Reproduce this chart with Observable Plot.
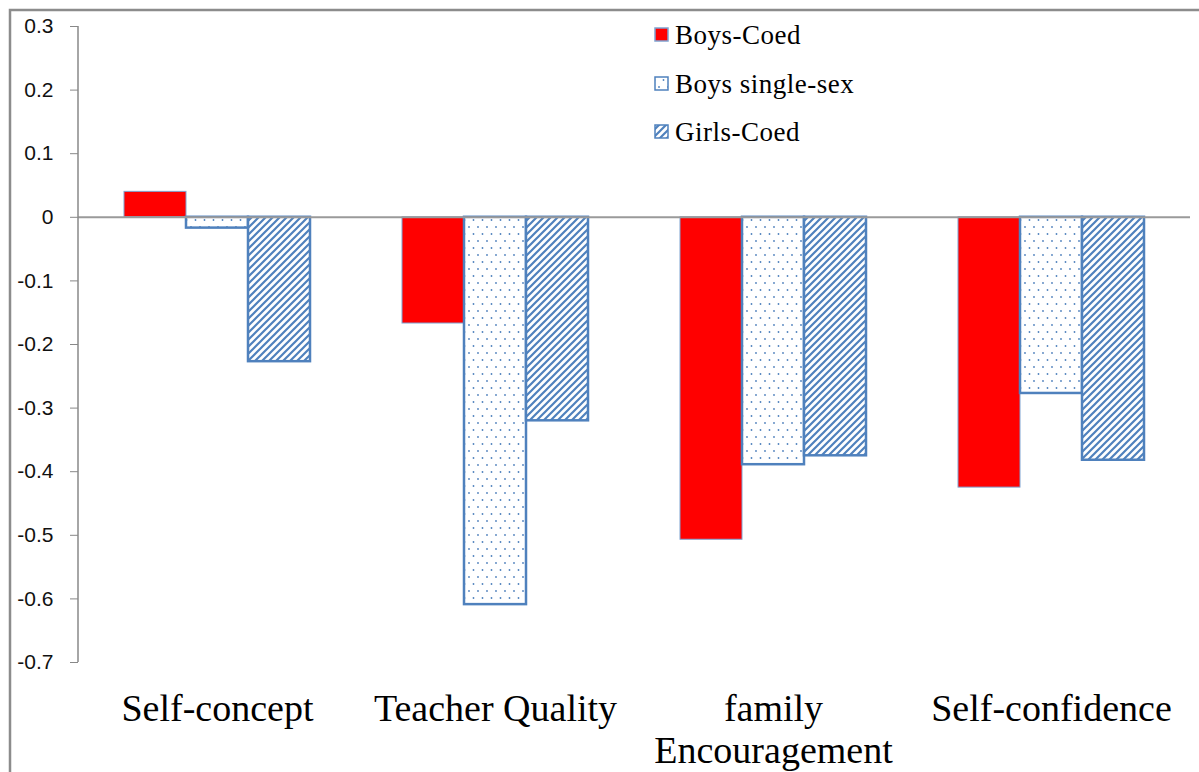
<!DOCTYPE html>
<html><head><meta charset="utf-8">
<script src="https://cdn.jsdelivr.net/npm/d3@7"></script>
<script src="https://cdn.jsdelivr.net/npm/@observablehq/plot@0.6"></script>
<style>
body{margin:0;background:#fff}
#chart{position:relative;width:1199px;height:772px;overflow:hidden}
</style>
</head><body><div id="chart"></div>
<script>
const categories = ["Self-concept", "Teacher Quality", "family\nEncouragement", "Self-confidence"];
const seriesNames = ["Boys-Coed", "Boys single-sex", "Girls-Coed"];
const boysCoed = [0.04, -0.167, -0.507, -0.425];
const boysSingleSex = [-0.017, -0.609, -0.389, -0.277];
const girlsCoed = [-0.227, -0.320, -0.375, -0.382];
const yTicks = [0.3, 0.2, 0.1, 0, -0.1, -0.2, -0.3, -0.4, -0.5, -0.6, -0.7];

const seriesValues = [boysCoed, boysSingleSex, girlsCoed];
const data = [];
categories.forEach((c, i) => {
  seriesNames.forEach((s, j) => data.push({category: c, series: s, value: seriesValues[j][i]}));
});

const BLUE = "#4f81bd";
const fills = ["#ff0000", "url(#dots)", "url(#hatch)"];
const strokes = ["#7fa3d1", BLUE, BLUE];
const strokeWidths = [1, 2.5, 2.5];

const barMarks = seriesNames.map((s, j) =>
  Plot.barY(data.filter(d => d.series === s), {
    fx: "category", x: "series", y: "value",
    fill: fills[j], stroke: strokes[j], strokeWidth: strokeWidths[j]
  })
);

const plot = Plot.plot({
  width: 1199, height: 772,
  marginLeft: 78, marginRight: 9, marginTop: 26, marginBottom: 110,
  style: {background: "white", color: "black", overflow: "visible"},
  fx: {domain: categories, padding: 0, label: null},
  x: {domain: seriesNames, paddingInner: 0, paddingOuter: 0.74, axis: null},
  y: {domain: [-0.7, 0.3], label: null},
  marks: [
    ...barMarks,
    Plot.ruleY([0], {stroke: "#9a9a9a", strokeWidth: 2}),
    Plot.axisY({ticks: yTicks, tickSize: 8, tickPadding: 17, label: null,
      tickFormat: d => d === 0 ? "0" : String(+d.toFixed(1)),
      fontSize: 21, fontFamily: "Liberation Sans"}),
    Plot.axisFx({anchor: "bottom", tickSize: 0, tickPadding: 28, label: null,
      fontSize: 38, fontFamily: "Liberation Serif", lineHeight: 1.12})
  ]
});

document.getElementById("chart").appendChild(plot);
const svg = d3.select(plot);

// patterns
const defs = svg.insert("defs", ":first-child");
const dots = defs.append("pattern").attr("id", "dots").attr("patternUnits", "userSpaceOnUse")
  .attr("width", 9).attr("height", 14);
dots.append("rect").attr("width", 9).attr("height", 14).attr("fill", "white");
dots.append("circle").attr("cx", 2).attr("cy", 3).attr("r", 0.9).attr("fill", BLUE);
dots.append("circle").attr("cx", 6.5).attr("cy", 10).attr("r", 0.9).attr("fill", BLUE);
const hatch = defs.append("pattern").attr("id", "hatch").attr("patternUnits", "userSpaceOnUse")
  .attr("width", 7).attr("height", 7);
hatch.append("rect").attr("width", 7).attr("height", 7).attr("fill", "white");
hatch.append("path").attr("d", "M0,7L7,0M-1,1L1,-1M6,8L8,6")
  .attr("stroke", BLUE).attr("stroke-width", 2.2);

// axis styling: y tick labels and tick marks
const tickLabelSet = new Set(yTicks.map(d => d === 0 ? "0" : String(+d.toFixed(1))));
svg.selectAll("text").filter(function() {
  return tickLabelSet.has(this.textContent.trim());
}).style("font-size", "21px").style("font-family", "Liberation Sans").style("fill", "#111");
svg.selectAll("g[aria-label]").filter(function() {
  const a = this.getAttribute("aria-label");
  return a.includes("y-axis") && a.includes("tick") && !a.includes("label");
}).attr("stroke", "#888").selectAll("path").attr("stroke", "#888");

// y axis line and outer frame
const y = plot.scale("y");
svg.append("line").attr("x1", 78).attr("x2", 78)
  .attr("y1", y.apply(0.3)).attr("y2", y.apply(-0.7))
  .attr("stroke", "#888").attr("stroke-width", 1.5);
svg.append("path").attr("d", "M10,772V10H1199").attr("fill", "none")
  .attr("stroke", "#8c8c8c").attr("stroke-width", 2.5);

// legend
const legend = svg.append("g").attr("font-family", "Liberation Serif").attr("font-size", 27)
  .attr("letter-spacing", 0.5).attr("text-anchor", "start");
const rowsY = [35, 84, 132];
seriesNames.forEach((s, j) => {
  legend.append("rect").attr("x", 655).attr("y", rowsY[j] - 7).attr("width", 13).attr("height", 13)
    .attr("fill", fills[j]).attr("stroke", j === 0 ? "#7fa3d1" : BLUE).attr("stroke-width", 1.5);
  legend.append("text").attr("x", 675).attr("y", rowsY[j]).attr("dy", "0.35em")
    .attr("text-anchor", "start").attr("fill", "black").text(s);
});
</script>
</body></html>
